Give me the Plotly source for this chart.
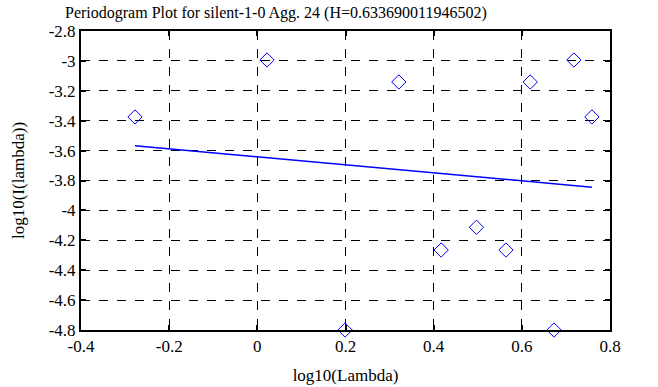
import plotly.graph_objects as go

# Periodogram points (log10 frequency vs log10 power)
log_lambda = [-0.2775, 0.022, 0.199, 0.321, 0.417, 0.497, 0.564, 0.619, 0.673, 0.718, 0.759]
log_power = [-3.375, -2.994, -4.8, -3.141, -4.265, -4.113, -4.265, -3.141, -4.8, -2.994, -3.375]

# Fitted regression line endpoints
fit_x = [-0.2775, 0.759]
fit_y = [-3.567, -3.845]

x_ticks = [-0.4, -0.2, 0, 0.2, 0.4, 0.6, 0.8]
x_tick_text = ["-0.4", "-0.2", "0", "0.2", "0.4", "0.6", "0.8"]
y_ticks = [-4.8, -4.6, -4.4, -4.2, -4.0, -3.8, -3.6, -3.4, -3.2, -3.0, -2.8]
y_tick_text = ["-4.8", "-4.6", "-4.4", "-4.2", "-4", "-3.8", "-3.6", "-3.4", "-3.2", "-3", "-2.8"]

title_text = "Periodogram Plot for silent-1-0 Agg. 24 (H=0.633690011946502)"

FONT = "Liberation Serif"

fig = go.Figure()
fig.add_trace(go.Scatter(
    x=log_lambda, y=log_power, mode="markers",
    marker=dict(symbol="diamond-open", size=11, color="#0000ff", line=dict(width=1, color="#0000ff")),
    showlegend=False, cliponaxis=False,
))
fig.add_trace(go.Scatter(
    x=fit_x, y=fit_y, mode="lines",
    line=dict(color="#0000ff", width=1.5),
    showlegend=False,
))

axis_common = dict(
    showline=True, linecolor="black", linewidth=2, mirror="ticks",
    ticks="inside", ticklen=5, tickwidth=2, tickcolor="black",
    showgrid=True, gridcolor="black", gridwidth=1, griddash="dash",
    zeroline=False, automargin=False,
    tickfont=dict(family=FONT, size=17, color="black"),
)

fig.update_xaxes(range=[-0.4, 0.8], tickvals=x_ticks, ticktext=x_tick_text,
                 title=dict(text="log10(Lambda)", font=dict(family=FONT, size=17, color="black"), standoff=14),
                 **axis_common)
fig.update_yaxes(range=[-4.8, -2.8], tickvals=y_ticks, ticktext=y_tick_text,
                 title=dict(text="log10(I(lambda))", font=dict(family=FONT, size=17, color="black"), standoff=20),
                 **axis_common)

fig.update_layout(
    width=658, height=387,
    margin=dict(l=81, r=48, t=31, b=57),
    paper_bgcolor="white", plot_bgcolor="white",
    title=dict(text=title_text, font=dict(family=FONT, size=16, color="black"),
               x=65 / 658, xanchor="left", xref="container", y=1 - 12 / 387, yanchor="middle", yref="container"),
)

fig.write_html("out.html", config={"displayModeBar": False},
               post_script="document.body.style.margin='0';document.body.style.overflow='hidden';")
